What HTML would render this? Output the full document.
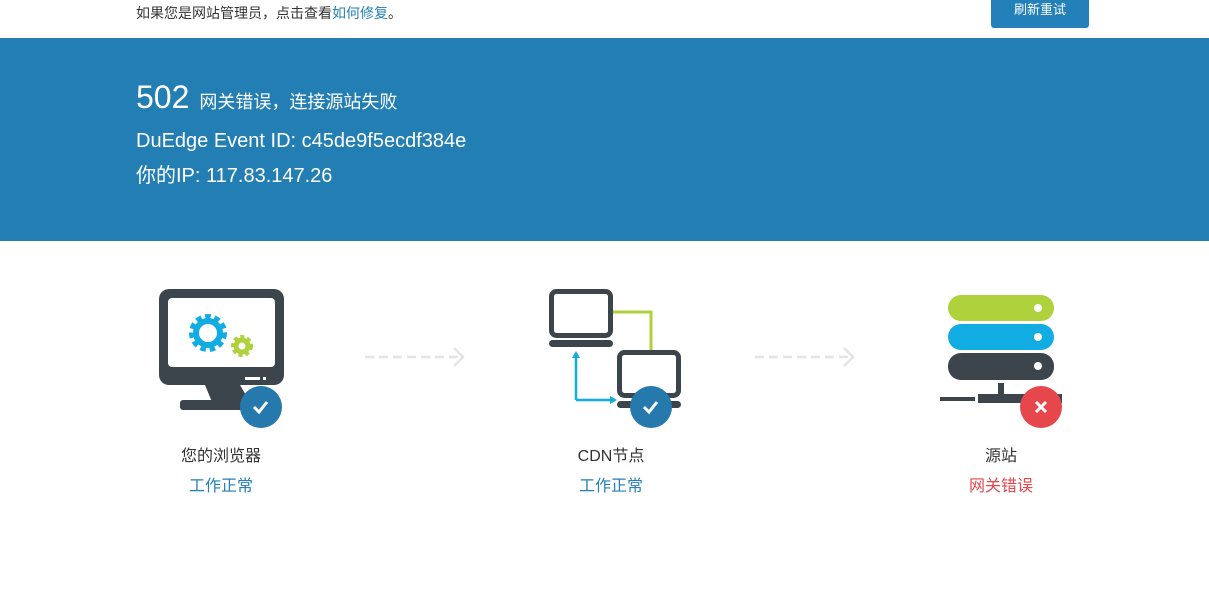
<!DOCTYPE html>
<html><head><meta charset="utf-8"><style>
body{margin:0;width:1209px;height:611px;background:#fff;font-family:"Liberation Sans","Noto Sans CJK SC",sans-serif;position:relative;overflow:hidden}
.a{position:absolute;white-space:nowrap}
.c{position:absolute;text-align:center;width:200px;font-size:16px}
</style></head><body>
<div class="a" style="left:136px;top:3px;font-size:14px;color:#333">如果您是网站管理员，点击查看<span style="color:#2380b8">如何修复</span>。</div>
<div class="a" style="left:991px;top:0;width:98px;height:28px;background:#2380b8;border-radius:0 0 3px 3px;color:#fff;font-size:13px;text-align:center;line-height:20px">刷新重试</div>
<div style="position:absolute;left:0;top:38px;width:1209px;height:203px;background:#237eb3"></div>
<div class="a" style="left:136px;top:79px;color:#fff"><span style="font-size:32px">502</span><span style="font-size:18px;margin-left:10px">网关错误，连接源站失败</span></div>
<div class="a" style="left:136px;top:130px;color:#fff;font-size:20px">DuEdge Event ID: c45de9f5ecdf384e</div>
<div class="a" style="left:136px;top:159px;color:#fff;font-size:20px">你的IP: 117.83.147.26</div>
<svg width="1209" height="611" style="position:absolute;left:0;top:0">
<g fill="#3c454c">
<rect x="159" y="289" width="125" height="96" rx="10"/>
<polygon points="205,385 240,385 250,402 212,402"/>
<rect x="180" y="400" width="85" height="10" rx="3"/>
</g>
<rect x="168" y="298" width="107" height="69" rx="4" fill="#fff"/>
<rect x="245" y="377" width="15" height="3" fill="#fff"/><rect x="263" y="377" width="3" height="3" fill="#fff"/>
<circle cx="208" cy="333" r="15" fill="none" stroke="#11ade2" stroke-width="8" stroke-dasharray="5 3.5"/>
<circle cx="208" cy="333" r="12" fill="none" stroke="#11ade2" stroke-width="6"/>
<circle cx="242" cy="346" r="8" fill="none" stroke="#afd13b" stroke-width="6" stroke-dasharray="3.5 2.5"/>
<circle cx="242" cy="346" r="6" fill="none" stroke="#afd13b" stroke-width="5"/>
<g stroke="#e4e4e4" stroke-width="2.5" fill="none">
<line x1="365" y1="357" x2="462" y2="357" stroke-dasharray="9 5"/><polyline points="454,348 463,357 454,366"/>
<line x1="755" y1="357" x2="852" y2="357" stroke-dasharray="9 5"/><polyline points="844,348 853,357 844,366"/>
</g>
<polyline points="613,312 651,312 651,350" fill="none" stroke="#afd13b" stroke-width="3"/>
<g fill="none" stroke="#3c454c" stroke-width="5">
<rect x="551.5" y="291.5" width="59" height="44" rx="5"/>
<rect x="619.5" y="352.5" width="59" height="43" rx="5"/>
</g>
<rect x="549" y="340" width="64" height="7" rx="3.5" fill="#3c454c"/>
<rect x="617" y="401" width="64" height="7" rx="3.5" fill="#3c454c"/>
<g stroke="#11ade2" stroke-width="2.5" fill="#11ade2">
<line x1="576" y1="356" x2="576" y2="400"/><line x1="576" y1="400" x2="612" y2="400"/>
<polygon points="572,358 576,351 580,358" stroke="none"/><polygon points="610,396 617,400 610,404" stroke="none"/>
</g>
<rect x="948" y="295" width="106" height="26" rx="13" fill="#afd13b"/>
<rect x="948" y="324" width="106" height="26" rx="13" fill="#11ade2"/>
<rect x="948" y="353" width="106" height="27" rx="13" fill="#3c454c"/>
<g fill="#fff"><circle cx="1038" cy="308" r="4"/><circle cx="1038" cy="337" r="4"/><circle cx="1038" cy="366" r="4"/></g>
<rect x="998" y="383" width="6" height="14" fill="#3c454c"/>
<rect x="978" y="394" width="84" height="9" fill="#3c454c"/>
<rect x="940" y="397" width="35" height="4" fill="#3c454c"/>
<circle cx="261" cy="407" r="21" fill="#2679ac"/><circle cx="651" cy="407" r="21" fill="#2679ac"/>
<polyline points="254,407 259,412 267,402" fill="none" stroke="#fff" stroke-width="3"/>
<polyline points="644,407 649,412 657,402" fill="none" stroke="#fff" stroke-width="3"/>
<circle cx="1041" cy="407" r="21" fill="#e5474d"/>
<g stroke="#fff" stroke-width="3"><line x1="1036" y1="402" x2="1046" y2="412"/><line x1="1046" y1="402" x2="1036" y2="412"/></g>
</svg>
<div class="c" style="left:121px;top:442px;color:#333">您的浏览器</div>
<div class="c" style="left:121px;top:472px;color:#2380b8">工作正常</div>
<div class="c" style="left:511px;top:442px;color:#333">CDN节点</div>
<div class="c" style="left:511px;top:472px;color:#2380b8">工作正常</div>
<div class="c" style="left:901px;top:442px;color:#333">源站</div>
<div class="c" style="left:901px;top:472px;color:#e5474d">网关错误</div>
</body></html>
